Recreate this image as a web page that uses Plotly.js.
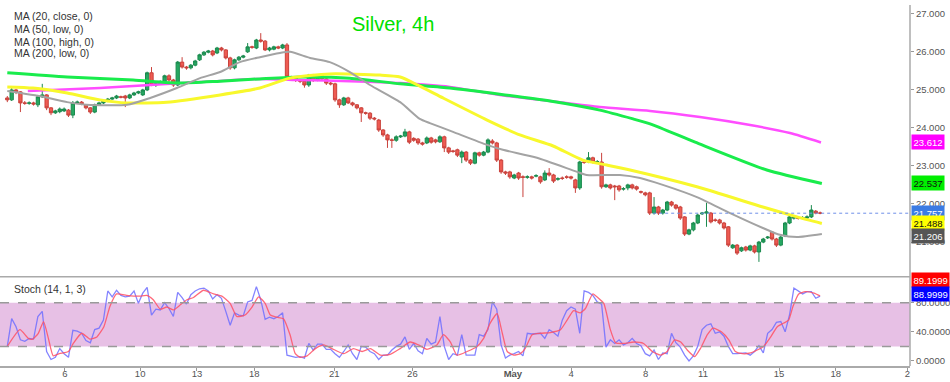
<!DOCTYPE html>
<html><head><meta charset="utf-8">
<script src="https://cdn.plot.ly/plotly-3.0.1.min.js"></script>
<style>html,body{margin:0;padding:0;background:#fff;}#chart{width:950px;height:382px;}</style>
</head><body><div id="chart"></div>
<script>
// ---- 4h candles (Silver) ----
const openP = [24.78,24.73,24.99,24.94,24.65,24.64,24.65,24.60,24.81,24.86,
24.52,24.39,24.42,24.44,24.46,24.33,24.65,24.67,24.60,24.52,
24.41,24.60,24.65,24.70,24.75,24.78,24.81,24.83,24.78,24.86,
24.91,24.86,24.99,25.44,25.12,25.15,25.17,25.36,25.25,25.12,
25.72,25.59,25.57,25.64,25.78,25.91,25.98,26.01,25.96,26.09,
26.04,25.83,25.57,25.78,25.85,25.99,26.12,26.09,26.30,26.27,
26.04,26.06,26.12,26.09,26.17,25.33,25.30,25.25,25.22,25.12,
25.38,25.25,25.36,25.28,25.17,25.15,24.73,24.60,24.78,24.65,
24.60,24.52,24.39,24.38,24.25,24.20,23.94,23.81,23.68,23.67,
23.76,23.78,23.89,23.72,23.70,23.60,23.60,23.73,23.68,23.63,
23.76,23.47,23.39,23.42,23.23,23.36,23.15,23.07,23.34,23.28,
23.36,23.65,23.60,23.15,22.84,22.84,22.68,22.81,22.71,22.70,
22.71,22.73,22.71,22.63,22.81,22.76,22.65,22.68,22.71,22.71,
22.63,22.42,23.10,23.10,23.21,23.10,23.10,22.45,22.50,22.47,
22.47,22.39,22.42,22.50,22.45,22.32,22.29,22.29,21.76,21.92,
21.76,21.84,22.05,21.97,21.92,21.66,21.21,21.32,21.50,21.74,
21.76,21.76,21.58,21.58,21.50,21.40,20.85,20.92,20.77,20.87,
20.79,20.90,20.74,21.00,21.11,21.26,21.08,20.92,21.16,21.50,
21.63,21.63,21.63,21.63,21.66,21.81,21.76];
const closeP = [24.73,24.99,24.94,24.65,24.64,24.65,24.62,24.81,24.86,24.52,
24.39,24.44,24.49,24.49,24.33,24.65,24.67,24.62,24.52,24.41,
24.60,24.65,24.70,24.75,24.78,24.83,24.80,24.78,24.86,24.91,
24.94,24.99,25.44,25.12,25.15,25.20,25.36,25.25,25.12,25.72,
25.59,25.57,25.64,25.75,25.91,25.98,26.01,25.91,26.09,26.04,
25.83,25.57,25.78,25.85,25.88,26.12,26.11,26.30,26.27,26.04,
26.09,26.12,26.09,26.17,25.33,25.30,25.25,25.22,25.12,25.38,
25.25,25.36,25.28,25.17,25.15,24.73,24.60,24.78,24.65,24.60,
24.52,24.39,24.38,24.25,24.23,23.94,23.81,23.68,23.67,23.76,
23.78,23.89,23.62,23.67,23.60,23.57,23.73,23.62,23.63,23.76,
23.47,23.36,23.38,23.28,23.36,23.15,23.07,23.34,23.28,23.36,
23.68,23.60,23.15,22.84,22.81,22.71,22.76,22.68,22.70,22.71,
22.68,22.74,22.58,22.81,22.76,22.60,22.66,22.67,22.70,22.68,
22.42,23.10,23.09,23.21,23.10,23.11,22.45,22.50,22.42,22.45,
22.37,22.40,22.50,22.42,22.39,22.31,22.24,21.76,21.92,21.76,
21.84,22.05,21.97,21.89,21.63,21.21,21.32,21.50,21.71,21.76,
21.79,21.53,21.57,21.50,21.37,20.92,20.92,20.71,20.85,20.79,
20.90,20.74,21.00,21.08,21.13,21.08,20.92,21.13,21.50,21.66,
21.64,21.62,21.64,21.66,21.84,21.76,21.76];
const highP = [24.83,25.04,25.02,24.96,24.70,24.69,24.68,24.86,25.15,24.88,
24.54,24.47,24.53,24.53,24.49,24.70,24.71,24.70,24.62,24.54,
24.63,24.68,24.73,24.78,24.81,24.86,24.84,24.86,24.89,24.94,
24.97,25.02,25.47,25.59,25.18,25.24,25.39,25.40,25.28,25.75,
25.85,25.62,25.67,25.78,25.94,26.01,26.04,26.04,26.12,26.12,
26.06,25.86,25.81,25.88,25.91,26.22,26.15,26.33,26.48,26.30,
26.12,26.15,26.15,26.20,26.22,25.36,25.33,25.28,25.25,25.41,
25.41,25.39,25.41,25.31,25.20,25.18,24.76,24.81,24.81,24.68,
24.62,24.54,24.42,24.41,24.28,24.23,23.96,23.84,23.72,23.80,
23.81,23.97,23.92,23.75,23.73,23.63,23.77,23.76,23.71,23.80,
23.79,23.50,23.42,23.45,23.40,23.39,23.18,23.37,23.37,23.39,
23.72,23.70,23.63,23.18,22.87,22.87,22.79,22.84,22.75,22.75,
22.74,22.78,22.74,22.88,22.94,22.79,22.70,22.72,22.75,22.74,
22.66,23.13,23.14,23.36,23.24,23.15,23.34,22.53,22.53,22.50,
22.50,22.44,22.53,22.53,22.48,22.35,22.32,22.32,22.18,21.95,
21.87,22.08,22.08,22.00,21.95,21.68,21.35,21.53,21.74,21.79,
22.03,21.79,21.62,21.61,21.53,21.42,20.95,20.95,20.88,20.90,
20.93,20.93,21.03,21.11,21.16,21.29,21.11,21.16,21.53,21.69,
21.68,21.67,21.68,21.70,21.97,21.84,21.80];
const lowP = [24.67,24.70,24.88,24.41,24.60,24.60,24.58,24.54,24.78,24.46,
24.33,24.36,24.38,24.41,24.28,24.25,24.62,24.59,24.48,24.36,
24.38,24.57,24.62,24.67,24.73,24.75,24.77,24.54,24.75,24.83,
24.88,24.83,24.96,25.09,25.07,25.12,25.14,25.20,25.07,25.09,
25.55,25.52,25.53,25.61,25.75,25.88,25.95,25.87,25.93,26.00,
25.79,25.52,25.53,25.75,25.82,25.96,26.07,26.06,26.23,26.01,
26.00,26.03,26.06,26.06,25.28,25.25,25.20,25.17,25.05,25.07,
25.20,25.22,25.24,25.12,25.11,24.68,24.52,24.57,24.62,24.56,
24.48,24.15,24.34,24.20,24.19,23.89,23.76,23.47,23.47,23.63,
23.73,23.75,23.57,23.63,23.55,23.53,23.57,23.58,23.59,23.60,
23.36,23.31,23.34,23.23,23.07,23.10,23.02,23.04,23.24,23.25,
23.33,23.56,23.10,22.79,22.76,22.66,22.65,22.63,22.18,22.66,
22.64,22.70,22.53,22.60,22.72,22.55,22.61,22.63,22.66,22.64,
22.29,22.37,23.05,23.07,23.06,23.06,22.40,22.42,22.38,22.10,
22.32,22.35,22.36,22.38,22.35,22.27,22.20,21.71,21.72,21.71,
21.72,21.81,21.93,21.85,21.58,21.16,21.18,21.28,21.47,21.71,
21.40,21.49,21.53,21.46,21.33,20.87,20.82,20.66,20.74,20.75,
20.76,20.70,20.48,20.97,21.08,21.04,20.87,20.89,21.13,21.47,
21.59,21.59,21.60,21.60,21.63,21.73,21.73];

// ---- moving averages (bar index, value) ----
const ma20Idx = [0,8.2,13.7,18.2,27.4,32.7,38.8,44.1,48.7,53.2,57.8,62.4,64.7,69.3,73.8,78.4,83.0,89.9,94.4,96.7,102.0,109.8,113.4,121.2,130.4,132.6,140.2,144.8,150.0,157.8,165.4,172.9,176.8,180.7,186.4];
const ma20Val = [24.96,24.81,24.67,24.60,24.60,24.78,25.04,25.30,25.46,25.72,25.85,25.96,25.99,25.83,25.72,25.46,25.12,24.67,24.23,24.12,23.89,23.55,23.42,23.21,22.84,22.76,22.76,22.68,22.50,22.18,21.76,21.37,21.19,21.13,21.21];
const ma50Idx = [0,5.9,13.7,21.2,27.4,36.5,48.7,57.8,64.7,73.8,85.3,89.9,94.4,99.7,109.8,117.3,124.9,131.7,137.2,142.5,157.8,172.9,180.7,186.4];
const ma50Val = [25.07,25.04,24.91,24.73,24.65,24.67,24.86,25.04,25.30,25.41,25.38,25.33,25.09,24.78,24.20,23.81,23.52,23.15,23.02,22.89,22.45,21.92,21.66,21.488];
const ma100Idx = [0,13.7,28.8,39.5,48.7,57.8,67.0,78.4,89.9,101.3,112.7,124.2,135.6,143.2,147.1,157.4,173.8,186.4];
const ma100Val = [25.44,25.33,25.25,25.17,25.22,25.28,25.33,25.30,25.15,25.04,24.88,24.70,24.46,24.23,24.10,23.62,22.89,22.537];
const ma200Idx = [4.7,21.2,32.7,47.5,57.8,67.0,78.4,89.9,101.3,112.7,124.2,135.6,147.1,158.5,170.0,179.1,186.2];
const ma200Val = [24.96,25.04,25.12,25.22,25.28,25.25,25.22,25.17,25.07,24.86,24.70,24.54,24.44,24.28,24.07,23.86,23.612];

// ---- Stochastic (14,1,3) ----
const stochK = [20,58,47,29,27,31,30,61,68,13,
2,5,17,10,5,42,41,38,28,25,
43,45,56,96,88,97,90,88,89,96,
79,93,101,63,71,70,80,72,61,94,
87,78,91,96,99,100,96,85,91,86,
68,49,66,63,62,81,83,102,84,57,
60,58,61,66,8,7,5,6,4,24,
15,23,23,16,16,10,5,13,22,10,
2,20,19,13,10,2,8,8,15,20,
23,33,16,24,14,10,31,23,26,61,
20,2,10,8,36,8,8,8,36,34,
43,81,71,22,4,8,10,13,7,38,
37,38,38,31,43,39,34,56,69,74,
71,38,96,94,90,81,78,19,29,24,
29,22,25,31,24,21,10,7,15,2,
11,10,38,25,19,8,0,7,20,43,
49,51,38,40,34,20,10,10,10,11,
8,13,21,11,38,43,53,54,40,63,
100,96,92,95,95,86,89];
const stochDIdx = [0,2.9,4.8,5.8,7.1,8.3,9.4,10.5,11.9,14.0,
15.1,17.0,18.9,20.5,22.1,23.5,25.0,27.3,28.9,30.4,
31.9,33.4,35.0,36.5,38.0,39.6,41.1,42.6,44.9,47.2,
49.1,51.0,52.5,54.4,56.0,57.5,59.0,60.2,61.7,63.2,
64.7,65.9,67.0,68.6,70.5,72.4,74.3,77.0,79.2,81.2,
83.1,85.4,87.6,89.9,92.2,94.1,96.0,98.3,99.8,101.4,
102.9,105.2,107.5,109.0,110.5,112.1,113.2,114.4,115.9,117.4,
118.5,120.1,122.0,124.3,126.6,128.1,129.6,131.1,132.3,134.0,
135.3,136.5,138.0,139.2,141.0,143.4,145.6,147.6,149.5,151.0,
152.7,154.1,155.6,157.3,158.6,160.2,161.5,163.4,165.1,166.6,
168.2,170.1,171.6,173.1,174.7,176.2,177.7,178.8,179.8,181.1,
182.6,184.6,186.0];
const stochD = [20,43,31,30,38,54,31,7,10,13,
24,38,30,33,47,75,92,90,89,89,
90,84,71,74,70,77,84,87,97,92,
89,79,61,63,74,88,79,63,60,58,
36,10,5,7,17,22,17,10,17,13,
17,8,9,17,26,22,16,22,36,26,
8,13,20,31,52,65,40,13,8,10,
17,36,38,39,43,56,69,66,72,92,
86,79,43,25,24,26,24,13,8,13,
29,26,15,6,17,36,45,40,29,13,
10,11,15,20,33,47,52,56,75,92,
95,93,89.2];

// ---- axis ticks and labels ----
const dateTickPos = [13.2,30.4,43.4,56.5,74.8,92.7,115.7,129.0,146.1,159.2,176.6,189.6,206.0];
const dateTickText = ['6','10','13','18','21','26','<b>May</b>','4','8','11','15','18','2'];
const priceTicks = [21,22,23,24,25,26,27];
const stochTicks = [0,40,80];
const maLabels = ['MA (20, close, 0)','MA (50, low, 0)','MA (100, high, 0)','MA (200, low, 0)'];
const lastPrice = 21.757;
const lastMA = {ma20:21.206, ma50:21.488, ma100:22.537, ma200:23.612};
const lastStoch = {d:89.1999, k:88.9999};

const FONT = 'Liberation Sans, Arial, sans-serif';
const idx = openP.map((_, i) => i);
const XR = [-1.67, 206.57];

const traces = [
  {type:'candlestick', x:idx, open:openP, high:highP, low:lowP, close:closeP,
   xaxis:'x', yaxis:'y', whiskerwidth:0, hoverinfo:'skip', showlegend:false,
   increasing:{line:{color:'#1a8a4e', width:1}, fillcolor:'#26a862'},
   decreasing:{line:{color:'#c9413b', width:1}, fillcolor:'#ef5b52'}},
  {type:'scatter', mode:'lines', x:ma200Idx, y:ma200Val, xaxis:'x', yaxis:'y',
   line:{color:'#ff4dff', width:2.5, shape:'spline', smoothing:0.6}, hoverinfo:'skip', showlegend:false},
  {type:'scatter', mode:'lines', x:ma100Idx, y:ma100Val, xaxis:'x', yaxis:'y',
   line:{color:'#19ec4c', width:3, shape:'spline', smoothing:0.6}, hoverinfo:'skip', showlegend:false},
  {type:'scatter', mode:'lines', x:ma50Idx, y:ma50Val, xaxis:'x', yaxis:'y',
   line:{color:'#f8f82c', width:3, shape:'spline', smoothing:0.6}, hoverinfo:'skip', showlegend:false},
  {type:'scatter', mode:'lines', x:ma20Idx, y:ma20Val, xaxis:'x', yaxis:'y',
   line:{color:'#a3a3a3', width:2, shape:'spline', smoothing:0.6}, hoverinfo:'skip', showlegend:false},
  {type:'scatter', mode:'lines', x:idx, y:stochK, xaxis:'x2', yaxis:'y2',
   line:{color:'rgba(110,110,255,0.85)', width:1.3}, hoverinfo:'skip', showlegend:false},
  {type:'scatter', mode:'lines', x:stochDIdx, y:stochD, xaxis:'x2', yaxis:'y2',
   line:{color:'rgba(255,80,100,0.85)', width:1.3, shape:'spline', smoothing:0.5}, hoverinfo:'skip', showlegend:false}
];

const MAIN_DOM = [0.2604, 1];
const STO_DOM = [0, 0.2474];

function labelBox(text, yv, yref, bg, fg, yshift) {
  return {text:text, x:1, xref:'paper', xanchor:'left', xshift:1, y:yv, yref:yref, yanchor:'middle',
    yshift:yshift||0, showarrow:false, bgcolor:bg, borderpad:1.5,
    font:{family:FONT, size:9.5, color:fg}};
}

const annotations = [
  {text:'Silver, 4h', x:0.4319, xref:'paper', y:0.9474, yref:'paper', xanchor:'center', yanchor:'middle',
   showarrow:false, font:{family:FONT, size:20, color:'#00e000'}},
  {text:'Stoch (14, 1, 3)', x:0.0132, xref:'paper', y:0.2133, yref:'paper', xanchor:'left', yanchor:'middle',
   showarrow:false, font:{family:FONT, size:10.5, color:'#333'}},
  labelBox(lastMA.ma200.toFixed(3), lastMA.ma200, 'y', '#ff00ff', '#ffffff'),
  labelBox(lastMA.ma100.toFixed(3), lastMA.ma100, 'y', '#00ee00', '#111111'),
  labelBox(lastPrice.toFixed(3), lastPrice, 'y', '#3b7be3', '#ffffff'),
  labelBox(lastMA.ma50.toFixed(3), lastMA.ma50, 'y', '#ffff00', '#111111'),
  labelBox(lastMA.ma20.toFixed(3), lastMA.ma20, 'y', '#555555', '#ffffff', -2),
  labelBox(lastStoch.d.toFixed(4), lastStoch.d, 'y2', '#ff0000', '#ffffff', 16),
  labelBox(lastStoch.k.toFixed(4), lastStoch.k, 'y2', '#0000ff', '#ffffff', 2)
];
const maY = [0.9695, 0.9327, 0.8983, 0.8662];
maLabels.forEach((t, i) => annotations.push({text:t, x:0.0132, xref:'paper', y:maY[i], yref:'paper',
  xanchor:'left', yanchor:'middle', showarrow:false, font:{family:FONT, size:10.5, color:'#333'}}));

const shapes = [
  {type:'rect', xref:'paper', x0:0, x1:1, yref:'y2', y0:20, y1:80, fillcolor:'#e7c0e5', line:{width:0}, layer:'below'},
  {type:'line', xref:'paper', x0:0, x1:1, yref:'y2', y0:80, y1:80, line:{color:'#9a9a9a', width:1.5, dash:'dash'}},
  {type:'line', xref:'paper', x0:0, x1:1, yref:'y2', y0:20, y1:20, line:{color:'#9a9a9a', width:1.5, dash:'dash'}},
  {type:'line', xref:'paper', x0:0, x1:1, yref:'paper', y0:STO_DOM[1], y1:STO_DOM[1], line:{color:'#aaaaaa', width:1.5}},
  {type:'line', xref:'paper', x0:1, x1:1, yref:'paper', y0:0, y1:1, line:{color:'#aaaaaa', width:1.5}},
  {type:'line', xref:'x', x0:147.8, x1:XR[1], yref:'y', y0:lastPrice, y1:lastPrice, line:{color:'#6f8fe8', width:1, dash:'dot'}}
];

const layout = {
  width:950, height:382, margin:{l:0, r:40, t:5, b:16},
  paper_bgcolor:'#ffffff', plot_bgcolor:'#ffffff', showlegend:false,
  font:{family:FONT, size:9.5, color:'#555'},
  boxgap:0.25, boxgroupgap:0,
  xaxis:{domain:[0,1], anchor:'y', range:XR, showticklabels:false, showgrid:false, zeroline:false,
         showline:false, ticks:'', rangeslider:{visible:false}, fixedrange:true},
  yaxis:{domain:MAIN_DOM, anchor:'x', side:'right', range:[20.215, 27.218], tickvals:priceTicks,
         tickformat:'.3f', ticks:'outside', ticklen:3, tickcolor:'#999', showline:false, showgrid:false,
         zeroline:false, tickfont:{family:FONT, size:9.5, color:'#555'}},
  xaxis2:{domain:[0,1], anchor:'y2', range:XR, tickvals:dateTickPos, ticktext:dateTickText, ticks:'outside',
          ticklen:3, tickcolor:'#999', showline:true, linecolor:'#aaaaaa', linewidth:1.5, showgrid:false,
          zeroline:false, ticklabelstandoff:-5, tickfont:{family:FONT, size:9.5, color:'#555'}},
  yaxis2:{domain:STO_DOM, anchor:'x2', side:'right', range:[-6.9, 115.6], tickvals:stochTicks,
          tickformat:'.4f', ticks:'outside', ticklen:3, tickcolor:'#999', showline:false, showgrid:false,
          zeroline:false, tickfont:{family:FONT, size:9.5, color:'#555'}},
  annotations:annotations, shapes:shapes
};

Plotly.newPlot('chart', traces, layout, {staticPlot:true, displayModeBar:false});
</script></body></html>
